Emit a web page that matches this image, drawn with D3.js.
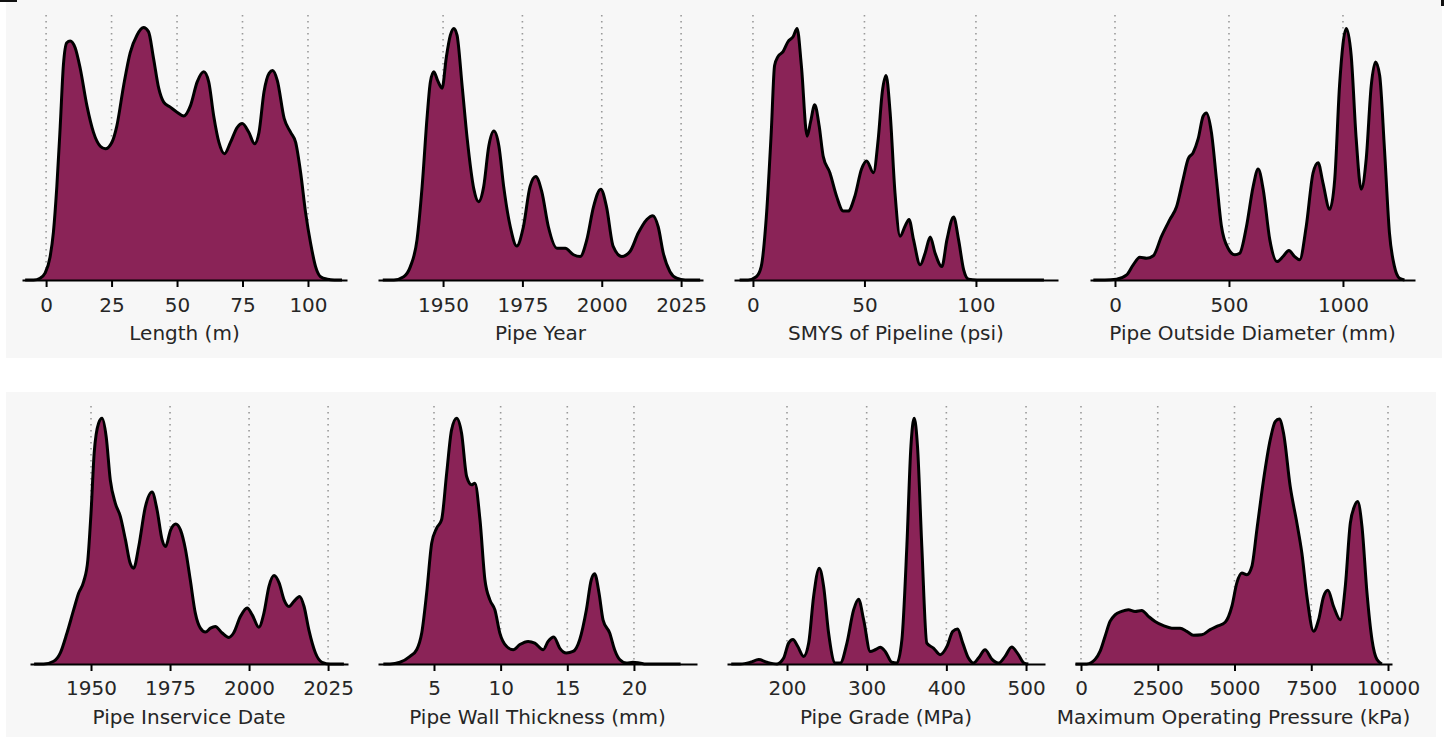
<!DOCTYPE html>
<html>
<head>
<meta charset="utf-8">
<script src="https://cdn.jsdelivr.net/npm/d3@7"></script>
<style>
  body { margin: 0; background: #fff; }
  svg { display: block; font-family: "DejaVu Sans", sans-serif; }
</style>
</head>
<body>
<div id="chart"></div>
<script>
// x positions (data units) and relative KDE heights
const lengthX = [-8, -4.8, -2.3, -0.4, 1.5, 2.8, 4.1, 5.4, 6.6, 7.9, 9.2, 11.1, 13, 15.6, 18.1, 20.7, 22.6, 25.1, 27, 29.6, 32.1, 34.7, 37.2, 39.1, 41, 43, 44.9, 47.4, 50, 52.6, 55.1, 57.7, 60.2, 62.1, 64, 66, 68.1, 70.4, 73, 74.9, 77.4, 79.6, 81.3, 83.2, 85.2, 86.5, 88.3, 90.9, 93.4, 95.3, 97.2, 99.1, 101, 102.9, 104.8, 107.4, 110, 113];
const lengthY = [0, 0, 0.007, 0.027, 0.09, 0.19, 0.37, 0.61, 0.85, 0.94, 0.947, 0.92, 0.84, 0.69, 0.585, 0.53, 0.52, 0.545, 0.61, 0.77, 0.9, 0.97, 1.0, 0.984, 0.88, 0.76, 0.705, 0.685, 0.665, 0.65, 0.69, 0.785, 0.825, 0.785, 0.65, 0.545, 0.5, 0.545, 0.605, 0.62, 0.585, 0.54, 0.585, 0.745, 0.82, 0.83, 0.79, 0.64, 0.585, 0.545, 0.425, 0.266, 0.146, 0.053, 0.013, 0.003, 0, 0];

const yearX = [1931, 1934.5, 1937.6, 1939.7, 1941.8, 1943.4, 1945, 1946, 1947.1, 1948.3, 1949.7, 1951, 1952.3, 1953.4, 1954.4, 1956, 1957.6, 1959.7, 1961.2, 1962.8, 1964.4, 1966, 1967.6, 1969.1, 1971.2, 1973.2, 1975.3, 1977.4, 1979.2, 1981.1, 1983.2, 1985.9, 1988.5, 1991.1, 1993.2, 1995.3, 1997.4, 1999.7, 2001.5, 2003.6, 2006.3, 2008.9, 2011.5, 2014.2, 2016.1, 2017.8, 2019.4, 2021.5, 2023.6, 2026.3, 2031];
const yearY = [0, 0, 0.013, 0.053, 0.16, 0.37, 0.65, 0.785, 0.825, 0.79, 0.76, 0.88, 0.97, 0.997, 0.97, 0.77, 0.56, 0.36, 0.31, 0.37, 0.53, 0.59, 0.53, 0.37, 0.21, 0.135, 0.21, 0.37, 0.41, 0.35, 0.21, 0.126, 0.126, 0.1, 0.093, 0.16, 0.29, 0.36, 0.29, 0.133, 0.093, 0.113, 0.186, 0.24, 0.255, 0.21, 0.106, 0.033, 0.007, 0, 0];

const smysX = [-6, -2.2, 1.5, 3.7, 6, 8.2, 9.7, 11.2, 13.5, 15.7, 18, 19.8, 21.7, 24.3, 25.8, 27.7, 29.7, 31.5, 34.5, 37.5, 40.5, 42.7, 45.7, 48.7, 51, 54, 56.2, 58, 59.7, 61.5, 63.7, 66, 68.2, 70, 72, 75, 77.2, 79.5, 81.7, 84.7, 87, 90, 92.2, 94.5, 96.7, 100.5, 130.5];
const smysY = [0, 0, 0.013, 0.053, 0.25, 0.585, 0.85, 0.885, 0.905, 0.944, 0.964, 0.997, 0.85, 0.57, 0.625, 0.694, 0.61, 0.49, 0.425, 0.332, 0.273, 0.273, 0.332, 0.44, 0.472, 0.425, 0.56, 0.745, 0.81, 0.665, 0.345, 0.173, 0.213, 0.24, 0.16, 0.06, 0.106, 0.17, 0.106, 0.053, 0.16, 0.25, 0.16, 0.04, 0.003, 0, 0];

const diamX = [-95, -44, 7, 51, 80, 109, 139, 168, 204, 241, 270, 299, 321, 343, 365, 387, 401, 423, 445, 467, 496, 526, 547, 577, 606, 628, 650, 679, 711, 737, 763, 788, 810, 839, 869, 891, 912, 942, 964, 985, 1015, 1036, 1058, 1080, 1102, 1124, 1143, 1161, 1182, 1204, 1226, 1248, 1270];
const diamY = [0, 0, 0.003, 0.02, 0.06, 0.09, 0.086, 0.096, 0.173, 0.24, 0.29, 0.4, 0.48, 0.505, 0.56, 0.65, 0.662, 0.585, 0.4, 0.213, 0.126, 0.1, 0.106, 0.213, 0.37, 0.44, 0.36, 0.16, 0.073, 0.093, 0.117, 0.093, 0.08, 0.213, 0.425, 0.465, 0.386, 0.28, 0.4, 0.77, 0.997, 0.89, 0.56, 0.36, 0.48, 0.77, 0.864, 0.81, 0.52, 0.186, 0.053, 0.007, 0];

const inserviceX = [1932, 1935, 1938.2, 1940.3, 1942.4, 1944.5, 1946.1, 1947.7, 1949, 1950, 1951, 1952.4, 1953.5, 1954.8, 1956.1, 1957.7, 1959.3, 1960.9, 1962.4, 1963.5, 1965.1, 1967.2, 1969.3, 1970.9, 1972.5, 1973.6, 1975.2, 1976.8, 1978.3, 1979.9, 1981.4, 1983, 1984.6, 1986.2, 1987.8, 1989.3, 1991.5, 1993.6, 1995.1, 1997.3, 1999.4, 2001, 2003.1, 2004.7, 2006.3, 2007.9, 2009.5, 2011.1, 2012.6, 2014.2, 2016, 2017.4, 2018.9, 2021, 2023.1, 2025.7, 2030];
const inserviceY = [0, 0, 0.011, 0.045, 0.126, 0.22, 0.289, 0.336, 0.424, 0.614, 0.858, 0.98, 1.0, 0.925, 0.749, 0.654, 0.6, 0.505, 0.41, 0.39, 0.478, 0.64, 0.7, 0.627, 0.505, 0.478, 0.546, 0.57, 0.546, 0.465, 0.343, 0.207, 0.146, 0.13, 0.146, 0.153, 0.126, 0.108, 0.126, 0.194, 0.228, 0.2, 0.15, 0.207, 0.316, 0.36, 0.33, 0.26, 0.234, 0.255, 0.275, 0.234, 0.14, 0.045, 0.007, 0, 0];

const wallX = [1.2, 1.7, 2.45, 3.2, 3.7, 4.08, 4.45, 4.83, 5.2, 5.57, 5.95, 6.32, 6.7, 7.07, 7.45, 7.82, 8.07, 8.45, 8.82, 9.2, 9.57, 9.94, 10.44, 10.94, 11.44, 12.06, 12.56, 13.19, 13.56, 13.99, 14.43, 14.93, 15.43, 15.93, 16.43, 16.8, 17.05, 17.38, 17.68, 18.18, 18.55, 18.93, 19.43, 19.93, 20.43, 20.9, 23.5];
const wallY = [0, 0, 0.007, 0.031, 0.058, 0.126, 0.289, 0.492, 0.553, 0.587, 0.776, 0.953, 1.0, 0.939, 0.763, 0.729, 0.736, 0.587, 0.343, 0.26, 0.22, 0.126, 0.072, 0.058, 0.079, 0.092, 0.085, 0.058, 0.092, 0.11, 0.065, 0.045, 0.051, 0.099, 0.22, 0.343, 0.367, 0.289, 0.18, 0.126, 0.058, 0.018, 0.004, 0.007, 0.004, 0, 0];

const gradeX = [130, 141.5, 154, 164.5, 175, 187.5, 195.8, 202, 207.5, 213.4, 220.9, 227.2, 233.4, 240.5, 246, 252.2, 260.6, 266.9, 275.2, 283.6, 289.8, 296.2, 304.5, 310.7, 317, 323.3, 331.6, 337.9, 344.2, 350.4, 355.5, 359.6, 363.8, 369.2, 375.5, 383.8, 392.2, 400.8, 408.1, 414, 420.6, 427.7, 434, 440.3, 448.6, 457, 465.4, 473.7, 482, 490.4, 497.5, 502.9];
const gradeY = [0, 0, 0.007, 0.018, 0.007, 0, 0.024, 0.085, 0.1, 0.072, 0.031, 0.085, 0.275, 0.39, 0.315, 0.126, 0.004, 0.004, 0.085, 0.22, 0.264, 0.18, 0.051, 0.058, 0.068, 0.051, 0.007, 0.004, 0.099, 0.478, 0.885, 1.0, 0.885, 0.478, 0.085, 0.065, 0.038, 0.072, 0.133, 0.142, 0.085, 0.024, 0.004, 0.024, 0.058, 0.02, 0.004, 0.031, 0.069, 0.038, 0.004, 0];

const mopX = [-180, 185, 457, 620, 783, 946, 1109, 1326, 1543, 1761, 1978, 2196, 2413, 2685, 2957, 3228, 3446, 3663, 3935, 4207, 4424, 4696, 4913, 5076, 5239, 5402, 5565, 5728, 5946, 6163, 6326, 6457, 6598, 6815, 7033, 7196, 7359, 7576, 7739, 7902, 8043, 8228, 8446, 8609, 8772, 8902, 9011, 9152, 9315, 9478, 9641, 9804];
const mopY = [0, 0, 0.018, 0.051, 0.112, 0.173, 0.2, 0.214, 0.221, 0.214, 0.218, 0.194, 0.173, 0.156, 0.146, 0.146, 0.133, 0.117, 0.119, 0.14, 0.153, 0.17, 0.234, 0.33, 0.37, 0.363, 0.397, 0.546, 0.749, 0.912, 0.986, 0.997, 0.939, 0.722, 0.573, 0.45, 0.275, 0.133, 0.18, 0.275, 0.3, 0.234, 0.18, 0.316, 0.573, 0.64, 0.661, 0.56, 0.289, 0.099, 0.018, 0];

// tick labels
const lengthTicks = [0, 25, 50, 75, 100];
const yearTicks = [1950, 1975, 2000, 2025];
const smysTicks = [0, 50, 100];
const diamTicks = [0, 500, 1000];
const wallTicks = [5, 10, 15, 20];
const gradeTicks = [200, 300, 400, 500];
const mopTicks = [0, 2500, 5000, 7500, 10000];

const width = 1446, height = 737;
const fillColor = "#8a2357";

const svg = d3.select("#chart").append("svg")
    .attr("width", width)
    .attr("height", height);

// light panels behind each row
svg.append("rect").attr("x", 6).attr("y", 0).attr("width", 1436).attr("height", 358).attr("fill", "#f7f7f7");
svg.append("rect").attr("x", 6).attr("y", 392).attr("width", 1430).attr("height", 345).attr("fill", "#f7f7f7");
svg.append("rect").attr("x", 0).attr("y", 0).attr("width", 17).attr("height", 2).attr("fill", "#111");
svg.append("rect").attr("x", 1441).attr("y", 0).attr("width", 3).attr("height", 6).attr("fill", "#111");

const panels = [
    { xs: lengthX, ys: lengthY, ticks: lengthTicks, dom: [-9.2, 114.9], x0: 22, x1: 347, top: 15, base: 280, title: "Length (m)" },
    { xs: yearX, ys: yearY, ticks: yearTicks, dom: [1929.5, 2031.9], x0: 378, x1: 703, top: 15, base: 280, title: "Pipe Year" },
    { xs: smysX, ys: smysY, ticks: smysTicks, dom: [-8.5, 136.8], x0: 734, x1: 1058, top: 15, base: 280, title: "SMYS of Pipeline (psi)" },
    { xs: diamX, ys: diamY, ticks: diamTicks, dom: [-109.6, 1316], x0: 1090, x1: 1415, top: 15, base: 280, title: "Pipe Outside Diameter (mm)" },
    { xs: inserviceX, ys: inserviceY, ticks: yearTicks, dom: [1930.7, 2031.3], x0: 30, x1: 348, top: 406, base: 664, title: "Pipe Inservice Date" },
    { xs: wallX, ys: wallY, ticks: wallTicks, dom: [0.8, 24.73], x0: 378, x1: 697, top: 406, base: 664, title: "Pipe Wall Thickness (mm)" },
    { xs: gradeX, ys: gradeY, ticks: gradeTicks, dom: [124.7, 523.8], x0: 727, x1: 1045, top: 406, base: 664, title: "Pipe Grade (MPa)" },
    { xs: mopX, ys: mopY, ticks: mopTicks, dom: [-195, 10130], x0: 1075, x1: 1392, top: 406, base: 664, title: "Maximum Operating Pressure (kPa)" }
];

panels.forEach(p => {
    const x = d3.scaleLinear().domain(p.dom).range([p.x0, p.x1]);
    const y = d3.scaleLinear().domain([0, 1.05]).range([p.base, p.top]);
    const pts = p.xs.map((v, i) => [v, p.ys[i]]);
    const g = svg.append("g");

    // dotted gridlines
    g.selectAll(".grid")
        .data(p.ticks)
        .enter().append("line")
        .attr("x1", d => x(d)).attr("x2", d => x(d))
        .attr("y1", p.top).attr("y2", p.base)
        .style("stroke", "#9a9a9a")
        .style("stroke-width", "1.6px")
        .style("stroke-dasharray", "1.6,4.4");

    const area = d3.area()
        .x(d => x(d[0]))
        .y0(y(0))
        .y1(d => y(d[1]))
        .curve(d3.curveMonotoneX);

    const line = d3.line()
        .x(d => x(d[0]))
        .y(d => y(d[1]))
        .curve(d3.curveMonotoneX);

    g.append("path").datum(pts)
        .attr("d", area)
        .style("fill", fillColor);

    g.append("path").datum(pts)
        .attr("d", line)
        .style("fill", "none")
        .style("stroke", "#000")
        .style("stroke-width", "3px")
        .style("stroke-linejoin", "round");

    const axis = d3.axisBottom(x)
        .tickValues(p.ticks)
        .tickFormat(d3.format("d"))
        .tickSize(7)
        .tickPadding(p.top < 100 ? 11 : 10)
        .tickSizeOuter(0);

    const ax = g.append("g")
        .attr("transform", `translate(0,${p.base})`)
        .call(axis);
    ax.select(".domain").style("stroke", "#000").style("stroke-width", "2px");
    ax.selectAll(".tick line").style("stroke", "#000").style("stroke-width", "2px");
    ax.selectAll(".tick text")
        .style("font-size", "20px")
        .style("font-family", "DejaVu Sans")
        .style("fill", "#262626");

    g.append("text")
        .attr("x", (p.x0 + p.x1) / 2)
        .attr("y", p.base + 60)
        .attr("text-anchor", "middle")
        .style("font-size", "20px")
        .style("fill", "#262626")
        .text(p.title);
});
</script>
</body>
</html>
